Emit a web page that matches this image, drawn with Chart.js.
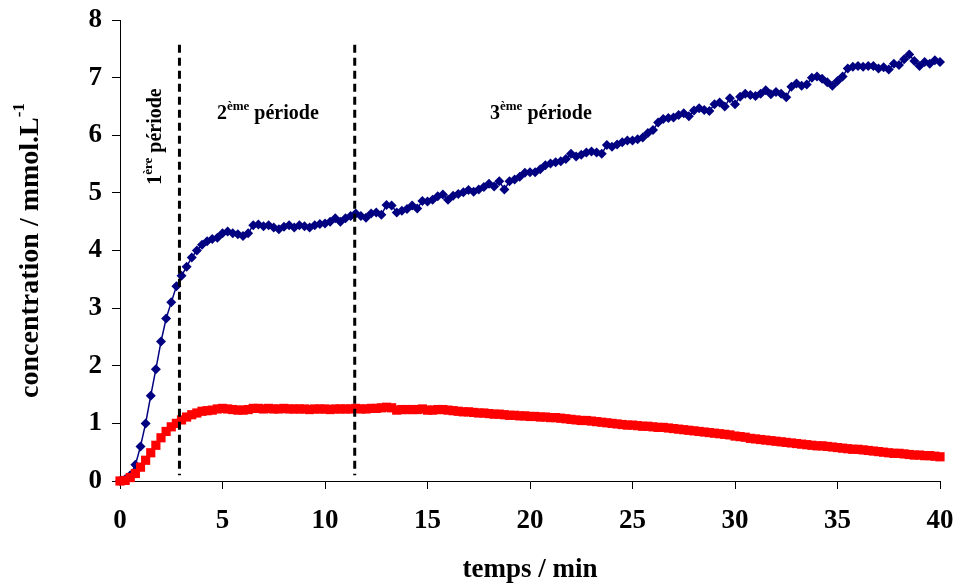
<!DOCTYPE html>
<html>
<head>
<meta charset="utf-8">
<script src="https://cdn.jsdelivr.net/npm/chart.js@4.4.0/dist/chart.umd.min.js"></script>
<style>
  html, body { margin: 0; padding: 0; background: #fff; }
</style>
</head>
<body>
<canvas id="myChart" width="955" height="588"></canvas>
<script>
// temps en minutes (une mesure toutes les 15 s)
const temps = [
  0, 0.25, 0.5, 0.75, 1, 1.25, 1.5, 1.75,
  2, 2.25, 2.5, 2.75, 3, 3.25, 3.5, 3.75,
  4, 4.25, 4.5, 4.75, 5, 5.25, 5.5, 5.75,
  6, 6.25, 6.5, 6.75, 7, 7.25, 7.5, 7.75,
  8, 8.25, 8.5, 8.75, 9, 9.25, 9.5, 9.75,
  10, 10.25, 10.5, 10.75, 11, 11.25, 11.5, 11.75,
  12, 12.25, 12.5, 12.75, 13, 13.25, 13.5, 13.75,
  14, 14.25, 14.5, 14.75, 15, 15.25, 15.5, 15.75,
  16, 16.25, 16.5, 16.75, 17, 17.25, 17.5, 17.75,
  18, 18.25, 18.5, 18.75, 19, 19.25, 19.5, 19.75,
  20, 20.25, 20.5, 20.75, 21, 21.25, 21.5, 21.75,
  22, 22.25, 22.5, 22.75, 23, 23.25, 23.5, 23.75,
  24, 24.25, 24.5, 24.75, 25, 25.25, 25.5, 25.75,
  26, 26.25, 26.5, 26.75, 27, 27.25, 27.5, 27.75,
  28, 28.25, 28.5, 28.75, 29, 29.25, 29.5, 29.75,
  30, 30.25, 30.5, 30.75, 31, 31.25, 31.5, 31.75,
  32, 32.25, 32.5, 32.75, 33, 33.25, 33.5, 33.75,
  34, 34.25, 34.5, 34.75, 35, 35.25, 35.5, 35.75,
  36, 36.25, 36.5, 36.75, 37, 37.25, 37.5, 37.75,
  38, 38.25, 38.5, 38.75, 39, 39.25, 39.5, 39.75,
  40
];

// série bleue (losanges)
const concBleu = [
  0.00, 0.03, 0.10, 0.28, 0.60, 1.00, 1.48, 1.94,
  2.42, 2.82, 3.10, 3.38, 3.56, 3.72, 3.88, 4.00,
  4.10, 4.16, 4.20, 4.22, 4.30, 4.33, 4.30, 4.28,
  4.25, 4.30, 4.44, 4.45, 4.42, 4.44, 4.40, 4.37,
  4.41, 4.44, 4.40, 4.44, 4.42, 4.40, 4.44, 4.46,
  4.47, 4.50, 4.56, 4.50, 4.56, 4.60, 4.64, 4.60,
  4.57, 4.64, 4.66, 4.62, 4.79, 4.78, 4.66, 4.69,
  4.72, 4.78, 4.73, 4.86, 4.85, 4.88, 4.94, 4.97,
  4.88, 4.95, 4.98, 5.01, 5.05, 5.02, 5.06, 5.10,
  5.16, 5.11, 5.20, 5.06, 5.20, 5.23, 5.28, 5.35,
  5.36, 5.36, 5.41, 5.48, 5.51, 5.53, 5.55, 5.59,
  5.68, 5.63, 5.66, 5.70, 5.72, 5.70, 5.68, 5.83,
  5.80, 5.84, 5.88, 5.91, 5.91, 5.93, 5.96, 6.04,
  6.09, 6.22, 6.28, 6.30, 6.31, 6.35, 6.38, 6.33,
  6.43, 6.47, 6.44, 6.42, 6.54, 6.57, 6.50, 6.64,
  6.54, 6.67, 6.72, 6.70, 6.68, 6.72, 6.78, 6.71,
  6.75, 6.72, 6.66, 6.84, 6.90, 6.86, 6.88, 7.00,
  7.02, 6.98, 6.92, 6.86, 6.94, 7.02, 7.16, 7.19,
  7.20, 7.19, 7.20, 7.20, 7.16, 7.18, 7.14, 7.24,
  7.22, 7.32, 7.40, 7.29, 7.20, 7.27, 7.24, 7.30,
  7.27
];

// série rouge (carrés)
const concRouge = [
  0.00, 0.01, 0.06, 0.13, 0.24, 0.36, 0.49, 0.62,
  0.75, 0.86, 0.94, 1.00, 1.06, 1.11, 1.15, 1.18,
  1.21, 1.22, 1.23, 1.25, 1.26, 1.25, 1.24, 1.23,
  1.23, 1.24, 1.26, 1.26, 1.25, 1.26, 1.25, 1.25,
  1.26, 1.25, 1.25, 1.25, 1.25, 1.24, 1.25, 1.25,
  1.25, 1.24, 1.25, 1.25, 1.25, 1.25, 1.26, 1.25,
  1.25, 1.26, 1.26, 1.27, 1.28, 1.27, 1.23, 1.24,
  1.24, 1.24, 1.24, 1.25, 1.23, 1.23, 1.24, 1.24,
  1.23, 1.22, 1.21, 1.20, 1.20, 1.19, 1.18, 1.18,
  1.17, 1.16, 1.16, 1.15, 1.14, 1.14, 1.13, 1.13,
  1.12, 1.12, 1.11, 1.11, 1.10, 1.10, 1.09, 1.08,
  1.07, 1.06, 1.05, 1.05, 1.04, 1.03, 1.02, 1.01,
  1.00, 0.99, 0.98, 0.97, 0.97, 0.96, 0.95, 0.95,
  0.94, 0.93, 0.93, 0.92, 0.91, 0.90, 0.89, 0.88,
  0.87, 0.86, 0.85, 0.84, 0.83, 0.82, 0.81, 0.80,
  0.78, 0.77, 0.76, 0.74, 0.73, 0.72, 0.71, 0.70,
  0.69, 0.68, 0.67, 0.66, 0.65, 0.64, 0.63, 0.62,
  0.61, 0.61, 0.60, 0.59, 0.58, 0.57, 0.56, 0.55,
  0.55, 0.54, 0.53, 0.52, 0.51, 0.50, 0.49, 0.48,
  0.48, 0.47, 0.46, 0.45, 0.45, 0.44, 0.44, 0.43,
  0.42
];

// limites entre les périodes (min)
const limitesPeriodes = [2.9, 11.45];
const hautLimite = 7.57;
const basLimite = 0.1;

// étiquettes des périodes : chiffre, exposant, suite
const textesPeriodes = [
  ['1', 'ère', ' période'],
  ['2', 'ème', ' période'],
  ['3', 'ème', ' période']
];

const axeX = { min: 0, max: 40, pas: 5 };
const axeY = { min: 0, max: 8, pas: 1 };

const police = "'Liberation Serif', 'Times New Roman', serif";

function ecrireAvecExposant(ctx, x, y, base, expo, suite, taille, tailleExpo, montee) {
  ctx.font = 'bold ' + taille + 'px ' + police;
  ctx.fillText(base, x, y);
  x += ctx.measureText(base).width;
  ctx.font = 'bold ' + tailleExpo + 'px ' + police;
  ctx.fillText(expo, x, y - montee);
  x += ctx.measureText(expo).width;
  ctx.font = 'bold ' + taille + 'px ' + police;
  ctx.fillText(suite, x, y);
}

function largeurAvecExposant(ctx, base, expo, suite, taille, tailleExpo) {
  ctx.font = 'bold ' + taille + 'px ' + police;
  let w = ctx.measureText(base).width + ctx.measureText(suite).width;
  ctx.font = 'bold ' + tailleExpo + 'px ' + police;
  return w + ctx.measureText(expo).width;
}

const etiquettes = {
  id: 'etiquettes',
  afterDraw(chart) {
    const ctx = chart.ctx;
    const sx = chart.scales.x, sy = chart.scales.y;
    ctx.save();
    ctx.fillStyle = '#000';
    ctx.textBaseline = 'alphabetic';
    ctx.textAlign = 'left';

    // 1ère période, verticale
    ctx.save();
    ctx.translate(sx.getPixelForValue(2.0), sy.getPixelForValue(5.14));
    ctx.rotate(-Math.PI / 2);
    const t1 = textesPeriodes[0];
    ecrireAvecExposant(ctx, 0, 0, t1[0], t1[1], t1[2], 20, 13, 9);
    ctx.restore();

    // 2ème et 3ème période
    const t2 = textesPeriodes[1];
    ecrireAvecExposant(ctx, sx.getPixelForValue(4.73), sy.getPixelForValue(6.28), t2[0], t2[1], t2[2], 20, 13, 9);
    const t3 = textesPeriodes[2];
    ecrireAvecExposant(ctx, sx.getPixelForValue(18.05), sy.getPixelForValue(6.28), t3[0], t3[1], t3[2], 20, 13, 9);

    // titre de l'axe des ordonnées
    const cy = (chart.chartArea.top + chart.chartArea.bottom) / 2;
    ctx.translate(31, cy);
    ctx.rotate(-Math.PI / 2);
    ctx.textBaseline = 'middle';
    const w = largeurAvecExposant(ctx, 'concentration / mmol.L', '-1', '', 28, 17);
    ecrireAvecExposant(ctx, -w / 2, 0, 'concentration / mmol.L', '-1', '', 28, 17, 11);
    ctx.restore();
  }
};

function enPoints(xs, ys) {
  return xs.map((t, i) => ({ x: t, y: ys[i] }));
}

const lignesLimites = limitesPeriodes.map(t => ({
  data: [{ x: t, y: hautLimite }, { x: t, y: basLimite }],
  borderColor: '#000',
  borderWidth: 3,
  borderDash: [8, 5],
  pointRadius: 0,
  fill: false,
  order: 0
}));

const ctx = document.getElementById('myChart').getContext('2d');
const myChart = new Chart(ctx, {
  type: 'line',
  data: {
    datasets: [
      {
        label: 'rouge',
        data: enPoints(temps, concRouge),
        borderColor: '#FF0000',
        backgroundColor: '#FF0000',
        borderWidth: 1.5,
        pointStyle: 'rect',
        pointRadius: 6.5,
        pointBorderWidth: 0,
        fill: false,
        clip: false,
        order: 1
      },
      {
        label: 'bleu',
        data: enPoints(temps, concBleu),
        borderColor: '#000080',
        backgroundColor: '#000080',
        borderWidth: 1.5,
        pointStyle: 'rectRot',
        pointRadius: 5,
        pointBorderWidth: 0,
        fill: false,
        clip: false,
        order: 2
      },
      ...lignesLimites
    ]
  },
  options: {
    responsive: false,
    animation: false,
    layout: { padding: { left: 20, right: 15, top: 20, bottom: 0 } },
    plugins: {
      legend: { display: false },
      tooltip: { enabled: false }
    },
    elements: { line: { tension: 0 } },
    scales: {
      x: {
        type: 'linear',
        min: axeX.min,
        max: axeX.max,
        afterFit: s => {
          s.height = 107;
          s.paddingLeft = 0;
          s.paddingRight = 0;
        },
        ticks: {
          stepSize: axeX.pas,
          color: '#000',
          padding: 16,
          maxRotation: 0,
          font: { family: police, size: 27, weight: 'bold' }
        },
        grid: { drawOnChartArea: false, drawTicks: true, tickLength: 8, color: '#000' },
        border: { color: '#000', width: 1 },
        title: {
          display: true,
          text: 'temps / min',
          color: '#000',
          padding: { top: 0, bottom: 2 },
          font: { family: police, size: 27, weight: 'bold' }
        }
      },
      y: {
        min: axeY.min,
        max: axeY.max,
        afterFit: s => {
          s.width = 100;
          s.paddingTop = 0;
          s.paddingBottom = 0;
        },
        ticks: {
          stepSize: axeY.pas,
          color: '#000',
          padding: 10,
          font: { family: police, size: 27, weight: 'bold' }
        },
        grid: { drawOnChartArea: false, drawTicks: true, tickLength: 8, color: '#000' },
        border: { color: '#000', width: 1 }
      }
    }
  },
  plugins: [etiquettes]
});
</script>
</body>
</html>
